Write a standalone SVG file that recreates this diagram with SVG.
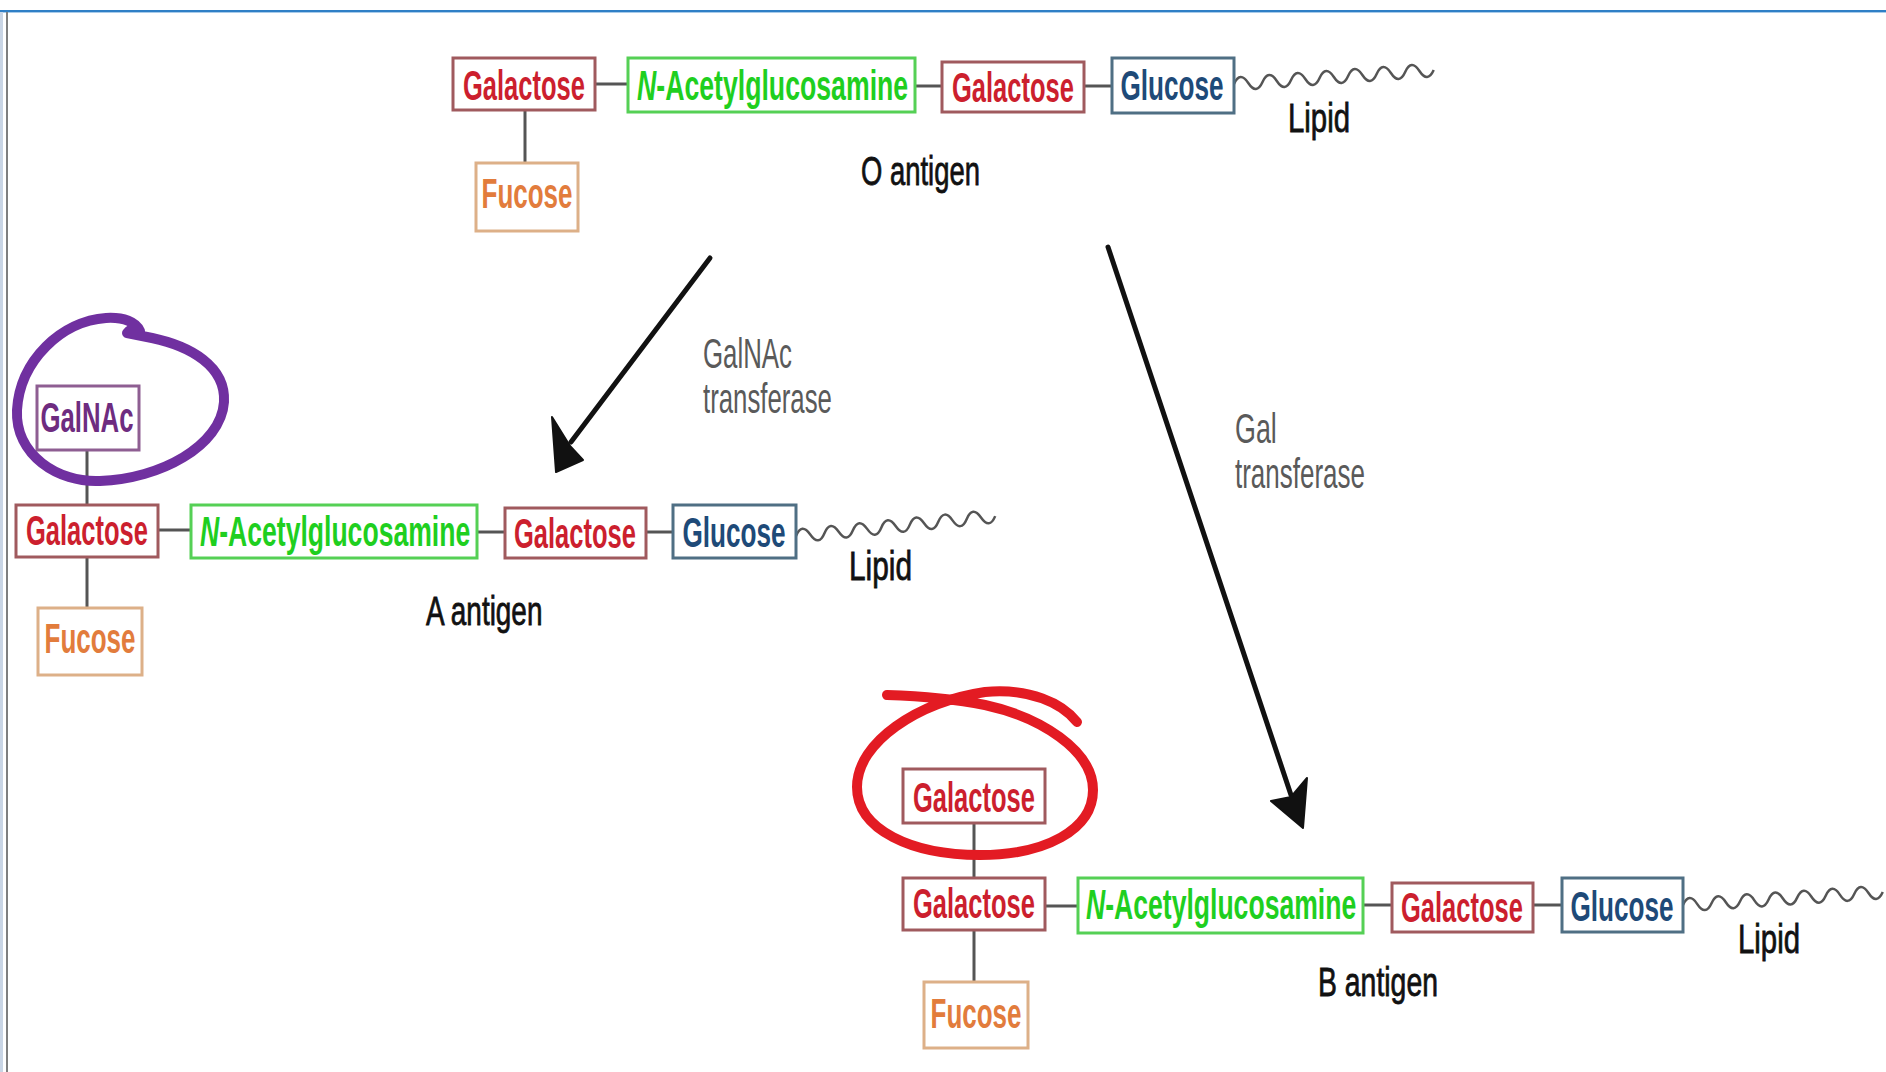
<svg xmlns="http://www.w3.org/2000/svg" width="1886" height="1072" viewBox="0 0 1886 1072">
  <defs>
    <style>
      .box { fill: #ffffff; stroke-width: 3; }
      .gal { stroke: #a05a5e; }
      .nag { stroke: #55d055; }
      .glc { stroke: #4f6f84; }
      .fuc { stroke: #ddb088; }
      .gnac { stroke: #8e5e92; }
      .t { font-family: "Liberation Sans", Arial, sans-serif; font-size: 42px; font-weight: bold; text-anchor: middle; }
      .ts { font-family: "Liberation Sans", Arial, sans-serif; font-size: 42px; font-weight: bold; }
      .tgal { fill: #cc1f2e; }
      .tnag { fill: #1fcf1f; }
      .tglc { fill: #1e4a78; }
      .tfuc { fill: #e27c3c; }
      .tgnac { fill: #6e2c80; }
      .lbl { font-family: "Liberation Sans", Arial, sans-serif; font-size: 40px; fill: #111; stroke: #111; stroke-width: 0.8; }
      .enz { font-family: "Liberation Sans", Arial, sans-serif; font-size: 42px; fill: #5a5a5a; }
      .bond { stroke: #555; stroke-width: 3; fill: none; }
      .lipid { stroke: #555; stroke-width: 2.5; fill: none; stroke-linejoin: round; }
      .shaft { stroke: #111; stroke-width: 5; fill: none; stroke-linecap: round; }
      .head { fill: #111; stroke: #111; stroke-width: 2; stroke-linejoin: round; }
      .mark { fill: none; stroke-width: 10; stroke-linecap: round; stroke-linejoin: round; }
    </style>
    <!-- lipid tail: 7 wave cycles, 200 px long -->
    <path id="wave" d="M0,0 q7,-13 14.3,0 t14.3,0 t14.3,0 t14.3,0 t14.3,0 t14.3,0 t14.3,0 t14.3,0 t14.3,0 t14.3,0 t14.3,0 t14.3,0 t14.3,0 t14.3,0"/>
  </defs>

  <rect x="0" y="0" width="1886" height="1072" fill="#ffffff"/>
  <!-- window frame -->
  <rect x="0" y="10" width="1886" height="2" fill="#2f7fc6"/>
  <rect x="0" y="12" width="1886" height="1" fill="#a8cbea"/>
  <rect x="0" y="12" width="3" height="1060" fill="#c9d5e5"/>
  <rect x="6" y="12" width="2" height="1060" fill="#7f7f7f"/>

  <!-- connectors: glycosidic bonds, lipid tails, enzyme arrows -->
  <g id="connectors">
    <!-- O antigen -->
    <line class="bond" x1="525" y1="110" x2="525" y2="163"/>
    <line class="bond" x1="595" y1="84" x2="628" y2="84"/>
    <line class="bond" x1="915" y1="86" x2="942" y2="86"/>
    <line class="bond" x1="1084" y1="86" x2="1112" y2="86"/>
    <use href="#wave" class="lipid" transform="translate(1234,84) rotate(-4)"/>
    <!-- A antigen -->
    <line class="bond" x1="87" y1="450" x2="87" y2="505"/>
    <line class="bond" x1="87" y1="557" x2="87" y2="608"/>
    <line class="bond" x1="158" y1="530" x2="191" y2="530"/>
    <line class="bond" x1="477" y1="532" x2="505" y2="532"/>
    <line class="bond" x1="646" y1="532" x2="673" y2="532"/>
    <use href="#wave" class="lipid" transform="translate(796,536) rotate(-5.7)"/>
    <!-- B antigen -->
    <line class="bond" x1="974" y1="823" x2="974" y2="878"/>
    <line class="bond" x1="974" y1="930" x2="974" y2="982"/>
    <line class="bond" x1="1045" y1="906" x2="1078" y2="906"/>
    <line class="bond" x1="1363" y1="905" x2="1392" y2="905"/>
    <line class="bond" x1="1533" y1="905" x2="1562" y2="905"/>
    <use href="#wave" class="lipid" transform="translate(1683,905) rotate(-3.7)"/>
    <!-- enzyme arrows -->
    <line class="shaft" x1="710" y1="258" x2="571" y2="442"/>
    <polygon class="head" points="556,472 552,417 570,446 583,460"/>
    <line class="shaft" x1="1108" y1="247" x2="1291" y2="795"/>
    <polygon class="head" points="1303,828 1271,801 1291,797 1307,778"/>
  </g>

  <!-- O antigen -->
  <g id="o-galactose">
    <rect class="box gal" x="453" y="58" width="142" height="52"/>
    <text class="t tgal" transform="translate(524,100) scale(0.608,1)">Galactose</text>
  </g>
  <g id="o-fucose">
    <rect class="box fuc" x="476" y="163" width="102" height="68"/>
    <text class="t tfuc" transform="translate(527,208) scale(0.619,1)">Fucose</text>
  </g>
  <g id="o-nag">
    <rect class="box nag" x="628" y="58" width="287" height="54"/>
    <text class="ts tnag" transform="translate(637,100) scale(0.635,1)"><tspan font-style="italic">N</tspan>-Acetylglucosamine</text>
  </g>
  <g id="o-galactose2">
    <rect class="box gal" x="942" y="62" width="142" height="50"/>
    <text class="t tgal" transform="translate(1013,102) scale(0.608,1)">Galactose</text>
  </g>
  <g id="o-glucose">
    <rect class="box glc" x="1112" y="58" width="122" height="55"/>
    <text class="t tglc" transform="translate(1172,100) scale(0.622,1)">Glucose</text>
  </g>
  <g id="o-labels">
    <text class="lbl" transform="translate(1288,132) scale(0.734,1)">Lipid</text>
    <text class="lbl" transform="translate(861,185) scale(0.686,1)">O antigen</text>
  </g>

  <!-- enzyme labels -->
  <g id="galnac-transferase">
    <text class="enz" transform="translate(703,368) scale(0.615,1)">GalNAc</text>
    <text class="enz" transform="translate(703,413) scale(0.614,1)">transferase</text>
  </g>
  <g id="gal-transferase">
    <text class="enz" transform="translate(1235,443) scale(0.64,1)">Gal</text>
    <text class="enz" transform="translate(1235,488) scale(0.619,1)">transferase</text>
  </g>

  <!-- A antigen -->
  <g id="a-galnac">
    <rect class="box gnac" x="37" y="386" width="102" height="64"/>
    <text class="t tgnac" transform="translate(87,432) scale(0.613,1)">GalNAc</text>
  </g>
  <g id="a-galactose">
    <rect class="box gal" x="16" y="505" width="142" height="52"/>
    <text class="t tgal" transform="translate(87,545) scale(0.608,1)">Galactose</text>
  </g>
  <g id="a-fucose">
    <rect class="box fuc" x="38" y="608" width="104" height="67"/>
    <text class="t tfuc" transform="translate(90,653) scale(0.619,1)">Fucose</text>
  </g>
  <g id="a-nag">
    <rect class="box nag" x="191" y="505" width="286" height="53"/>
    <text class="ts tnag" transform="translate(200,546) scale(0.633,1)"><tspan font-style="italic">N</tspan>-Acetylglucosamine</text>
  </g>
  <g id="a-galactose2">
    <rect class="box gal" x="505" y="508" width="141" height="50"/>
    <text class="t tgal" transform="translate(575,548) scale(0.608,1)">Galactose</text>
  </g>
  <g id="a-glucose">
    <rect class="box glc" x="673" y="505" width="123" height="53"/>
    <text class="t tglc" transform="translate(734,547) scale(0.622,1)">Glucose</text>
  </g>
  <g id="a-labels">
    <text class="lbl" transform="translate(849,580) scale(0.746,1)">Lipid</text>
    <text class="lbl" transform="translate(426,625) scale(0.698,1)">A antigen</text>
  </g>

  <!-- B antigen -->
  <g id="b-galactose-top">
    <rect class="box gal" x="903" y="769" width="142" height="54"/>
    <text class="t tgal" transform="translate(974,812) scale(0.608,1)">Galactose</text>
  </g>
  <g id="b-galactose">
    <rect class="box gal" x="903" y="878" width="142" height="52"/>
    <text class="t tgal" transform="translate(974,918) scale(0.608,1)">Galactose</text>
  </g>
  <g id="b-fucose">
    <rect class="box fuc" x="924" y="982" width="104" height="66"/>
    <text class="t tfuc" transform="translate(976,1028) scale(0.619,1)">Fucose</text>
  </g>
  <g id="b-nag">
    <rect class="box nag" x="1078" y="878" width="285" height="55"/>
    <text class="ts tnag" transform="translate(1086,919) scale(0.633,1)"><tspan font-style="italic">N</tspan>-Acetylglucosamine</text>
  </g>
  <g id="b-galactose2">
    <rect class="box gal" x="1392" y="883" width="141" height="49"/>
    <text class="t tgal" transform="translate(1462,922) scale(0.608,1)">Galactose</text>
  </g>
  <g id="b-glucose">
    <rect class="box glc" x="1562" y="878" width="121" height="54"/>
    <text class="t tglc" transform="translate(1622,921) scale(0.622,1)">Glucose</text>
  </g>
  <g id="b-labels">
    <text class="lbl" transform="translate(1738,953) scale(0.734,1)">Lipid</text>
    <text class="lbl" transform="translate(1318,996) scale(0.71,1)">B antigen</text>
  </g>

  <!-- hand-drawn highlight loops -->
  <g id="highlight-galnac">
    <path class="mark" stroke="#7030a0" d="M140,331 C136,322 124,317 106,318 C62,321 20,360 17,410 C15,455 58,483 100,481 C160,479 221,446 224,402 C226,366 190,346 152,338 L127,333 C131,328 136,327 140,331"/>
  </g>
  <g id="highlight-galactose">
    <path class="mark" stroke="#e31b23" d="M887,695 C920,696 955,699 985,705 C1040,717 1093,750 1093,790 C1093,830 1045,855 980,855 C912,855 857,830 857,787 C857,742 918,702 985,692 C1030,688 1062,703 1077,722"/>
  </g>
</svg>
